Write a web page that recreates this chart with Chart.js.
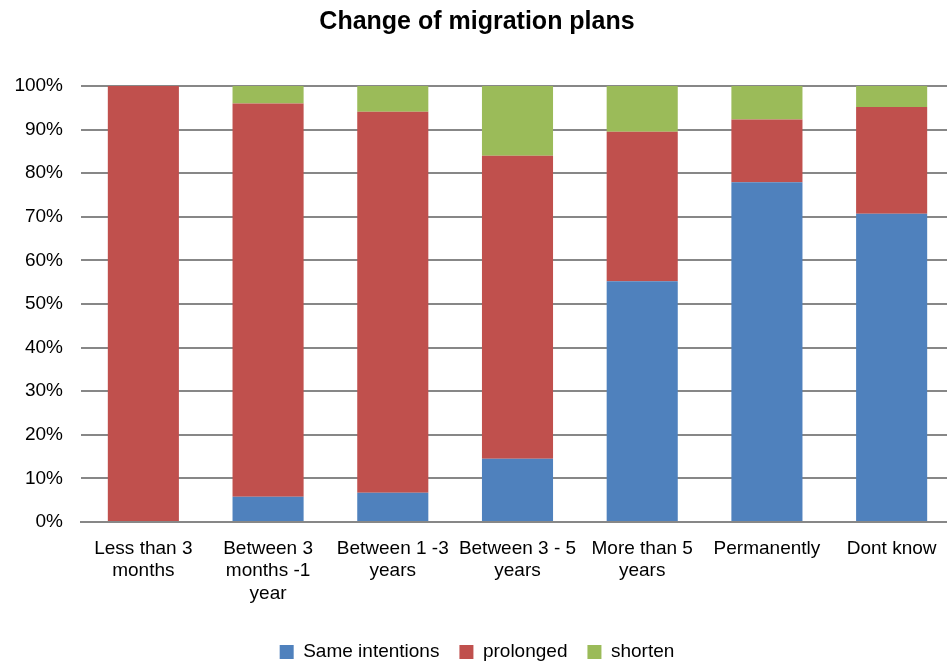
<!DOCTYPE html>
<html>
<head>
<meta charset="utf-8">
<script src="https://cdn.jsdelivr.net/npm/chart.js@4"></script>
<style>
  html, body { margin: 0; padding: 0; overflow: hidden; background: #fff; }
  #wrap { width: 960px; height: 664px; }
</style>
</head>
<body>
<div id="wrap"><canvas id="chart"></canvas></div>
<script>
const categories = [
    ['Less than 3', 'months'],
    ['Between 3', 'months -1', 'year'],
    ['Between 1 -3', 'years'],
    ['Between 3 - 5', 'years'],
    ['More than 5', 'years'],
    'Permanently',
    'Dont know'
]
const sameIntentions = [0, 5.8, 6.7, 14.5, 55.2, 77.9, 70.7]
const prolonged = [100, 90.2, 87.4, 69.5, 34.3, 14.4, 24.5]
const shorten = [0, 4.0, 5.9, 16.0, 10.5, 7.7, 4.8]
const yTicks = [0, 10, 20, 30, 40, 50, 60, 70, 80, 90, 100]

Chart.defaults.font.family = '"Liberation Sans", Arial, sans-serif'
Chart.defaults.color = '#000'

const chartEl = document.getElementById('chart')

new Chart(chartEl, {
    type: 'bar',
    data: {
        labels: categories,
        datasets: [
            { label: 'Same intentions', data: sameIntentions, backgroundColor: '#4f81bd' },
            { label: 'prolonged', data: prolonged, backgroundColor: '#c0504d' },
            { label: 'shorten', data: shorten, backgroundColor: '#9bbb59' }
        ]
    },
    options: {
        responsive: true,
        maintainAspectRatio: false,
        animation: false,
        // legend sits a bit lower than chart.js puts it, let the bottom bleed a little
        layout: { padding: { left: 0, right: 6, top: 0, bottom: -7.5 } },
        datasets: {
            bar: { barPercentage: 0.57, categoryPercentage: 1 }
        },
        scales: {
            x: {
                stacked: true,
                grid: { display: false, drawTicks: false },
                border: { color: '#878787', width: 2 },
                ticks: { font: { size: 19 }, padding: 15, maxRotation: 0, autoSkip: false },
                afterFit: scale => { scale.height = 100.5 }
            },
            y: {
                stacked: true,
                min: 0,
                max: 100,
                afterBuildTicks: scale => { scale.ticks = yTicks.map(v => ({ value: v })) },
                afterFit: scale => { scale.width = 81 },
                grid: { color: '#878787', lineWidth: 2, drawTicks: false },
                border: { display: false },
                ticks: { font: { size: 19 }, padding: 18, callback: v => v + '%' }
            }
        },
        plugins: {
            title: {
                display: true,
                text: 'Change of migration plans',
                font: { size: 25, weight: 'bold' },
                color: '#000',
                padding: { top: 7, bottom: 49 }
            },
            legend: {
                position: 'bottom',
                labels: { boxWidth: 14, boxHeight: 14, font: { size: 19 }, padding: 20 }
            },
            tooltip: { enabled: false }
        }
    }
})
</script>
</body>
</html>
